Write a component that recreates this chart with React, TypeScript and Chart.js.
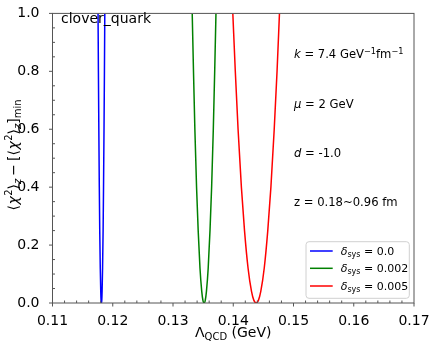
import React, { useEffect, useRef } from 'react';
import { Chart, registerables } from 'chart.js';

Chart.register(...registerables);

const FAMILY = '"DejaVu Sans", "Noto Sans", sans-serif';

// ---- data ----
const deltaSysLabels = ['0.0', '0.002', '0.005'];
const seriesColors = ['#0000ff', '#008000', '#ff0000'];
const chiLevels = [1.0, 0.8, 0.6, 0.4, 0.25, 0.12, 0.04, 0.01, 0, 0.01, 0.04, 0.12, 0.25, 0.4, 0.6, 0.8, 1.0];
const lambdaBlue = [0.11756, 0.11762, 0.11769, 0.11777, 0.11784, 0.11793, 0.11801, 0.11806, 0.11812, 0.11818, 0.11823, 0.11831, 0.1184, 0.11847, 0.11855, 0.11862, 0.11868];
const lambdaGreen = [0.13319, 0.1334, 0.13363, 0.13391, 0.13418, 0.13448, 0.13477, 0.13496, 0.13516, 0.13536, 0.13555, 0.13584, 0.13614, 0.13641, 0.13669, 0.13692, 0.13713];
const lambdaRed = [0.13993, 0.14034, 0.1408, 0.14135, 0.14187, 0.14246, 0.14303, 0.14341, 0.1438, 0.14419, 0.14457, 0.14514, 0.14573, 0.14625, 0.1468, 0.14727, 0.14767];
const xTickValues = [0.11, 0.12, 0.13, 0.14, 0.15, 0.16, 0.17];
const xTickLabels = ['0.11', '0.12', '0.13', '0.14', '0.15', '0.16', '0.17'];
const yTickValues = [0, 0.2, 0.4, 0.6, 0.8, 1.0];
const yTickLabels = ['0.0', '0.2', '0.4', '0.6', '0.8', '1.0'];

type Seg = { t: string; s: number; i?: boolean; dy?: number; gap?: number };

const fontOf = (g: Seg) => `${g.i ? 'italic ' : ''}${g.s}px ${FAMILY}`;

function segWidth(ctx: CanvasRenderingContext2D, g: Seg) {
  ctx.font = fontOf(g);
  return ctx.measureText(g.t).width + (g.gap || 0);
}

function richWidth(ctx: CanvasRenderingContext2D, segs: Seg[]) {
  let w = 0;
  for (const g of segs) w += segWidth(ctx, g);
  return w;
}

function drawRich(ctx: CanvasRenderingContext2D, segs: Seg[], x: number, y: number, align: 'left' | 'center' = 'left') {
  let cx = align === 'center' ? x - richWidth(ctx, segs) / 2 : x;
  ctx.textAlign = 'left';
  ctx.textBaseline = 'alphabetic';
  for (const g of segs) {
    ctx.font = fontOf(g);
    if (g.t) ctx.fillText(g.t, cx, y + (g.dy || 0));
    cx += segWidth(ctx, g);
  }
}

const decoPlugin = {
  id: 'deco',
  afterDraw(chart: any) {
    const { ctx, chartArea: a } = chart;
    const xs = chart.scales.x;
    const ys = chart.scales.y;
    ctx.save();
    // frame
    ctx.strokeStyle = '#555555';
    ctx.lineWidth = 1;
    ctx.strokeRect(a.left, a.top, a.right - a.left, a.bottom - a.top);

    // major ticks (outward)
    ctx.beginPath();
    for (const v of xTickValues) {
      const p = xs.getPixelForValue(v);
      ctx.moveTo(p, a.bottom);
      ctx.lineTo(p, a.bottom + 3.5);
    }
    for (const v of yTickValues) {
      const p = ys.getPixelForValue(v);
      ctx.moveTo(a.left, p);
      ctx.lineTo(a.left - 3.5, p);
    }
    ctx.stroke();

    // minor ticks (inward)
    ctx.beginPath();
    for (let k = 1; k < 30; k++) {
      if (k % 5 === 0) continue;
      const p = xs.getPixelForValue(0.11 + k * 0.002);
      ctx.moveTo(p, a.bottom);
      ctx.lineTo(p, a.bottom - 2.5);
    }
    for (let k = 1; k < 20; k++) {
      if (k % 4 === 0) continue;
      const p = ys.getPixelForValue(k * 0.05);
      ctx.moveTo(a.left, p);
      ctx.lineTo(a.left + 2.5, p);
    }
    ctx.stroke();

    ctx.fillStyle = '#000000';
    // top-left label
    drawRich(ctx, [{ t: 'clover_quark', s: 14 }], a.left + 8.5, 23.3);

    // annotations
    const ax = 294;
    drawRich(ctx, [
      { t: 'k', s: 11.6, i: true },
      { t: ' = 7.4 GeV', s: 11.6 },
      { t: '\u22121', s: 8.2, dy: -4.5 },
      { t: 'fm', s: 11.6 },
      { t: '\u22121', s: 8.2, dy: -4.5 },
    ], ax, 58.3);
    drawRich(ctx, [
      { t: '\u03bc', s: 11.6, i: true },
      { t: ' = 2 GeV', s: 11.6 },
    ], ax, 108);
    drawRich(ctx, [
      { t: 'd', s: 11.6, i: true },
      { t: ' = -1.0', s: 11.6 },
    ], ax, 157);
    drawRich(ctx, [{ t: 'z = 0.18~0.96 fm', s: 11.6 }], ax, 206);

    // x-axis title
    drawRich(ctx, [
      { t: '\u039b', s: 14 },
      { t: 'QCD', s: 10, dy: 3.2 },
      { t: ' (GeV)', s: 14 },
    ], (a.left + a.right) / 2, 336.5, 'center');

    // y-axis title (rotated)
    ctx.save();
    ctx.translate(17.5, 155);
    ctx.rotate(-Math.PI / 2);
    drawRich(ctx, [
      { t: '\u27e8', s: 14, gap: 0.5 },
      { t: '\u03c7', s: 14, i: true, gap: 0.5 },
      { t: '2', s: 10, dy: -5.5 },
      { t: '\u27e9', s: 14 },
      { t: 'z', s: 10, i: true, dy: 3, gap: 3 },
      { t: '\u2212', s: 14, gap: 3 },
      { t: '[', s: 14 },
      { t: '\u27e8', s: 14, gap: 0.5 },
      { t: '\u03c7', s: 14, i: true, gap: 0.5 },
      { t: '2', s: 10, dy: -5.5 },
      { t: '\u27e9', s: 14 },
      { t: 'z', s: 10, i: true, dy: 3 },
      { t: ']', s: 14 },
      { t: 'min', s: 10, dy: 3 },
    ], 0, 0, 'center');
    ctx.restore();

    // legend
    const lx = 306, ly = 241.7, lw = 103.3, lh = 56.6, r = 3;
    ctx.beginPath();
    ctx.moveTo(lx + r, ly);
    ctx.lineTo(lx + lw - r, ly);
    ctx.arcTo(lx + lw, ly, lx + lw, ly + r, r);
    ctx.lineTo(lx + lw, ly + lh - r);
    ctx.arcTo(lx + lw, ly + lh, lx + lw - r, ly + lh, r);
    ctx.lineTo(lx + r, ly + lh);
    ctx.arcTo(lx, ly + lh, lx, ly + lh - r, r);
    ctx.lineTo(lx, ly + r);
    ctx.arcTo(lx, ly, lx + r, ly, r);
    ctx.closePath();
    ctx.fillStyle = 'rgba(255,255,255,0.8)';
    ctx.fill();
    ctx.strokeStyle = '#d0d0d0';
    ctx.lineWidth = 1;
    ctx.stroke();

    const rowY = [251, 268.3, 286];
    chart.data.datasets.forEach((ds: any, i: number) => {
      ctx.strokeStyle = ds.borderColor;
      ctx.lineWidth = 1.5;
      ctx.beginPath();
      ctx.moveTo(310, rowY[i]);
      ctx.lineTo(332.7, rowY[i]);
      ctx.stroke();
      ctx.fillStyle = '#000000';
      drawRich(ctx, [
        { t: '\u03b4', s: 11, i: true },
        { t: 'sys', s: 8, dy: 2.5 },
        { t: ' = ' + deltaSysLabels[i], s: 11 },
      ], 340.7, rowY[i] + 3.6);
    });

    ctx.restore();
  },
};

function makeData(xs: number[]) {
  return xs.map((x, i) => ({ x, y: chiLevels[i] }));
}

export default function App() {
  const ref = useRef<HTMLCanvasElement | null>(null);
  useEffect(() => {
    if (!ref.current) return;
    const series = [lambdaBlue, lambdaGreen, lambdaRed];
    const chart = new Chart(ref.current, {
      type: 'line',
      data: {
        datasets: series.map((s, i) => ({
          label: '\u03b4sys = ' + deltaSysLabels[i],
          data: makeData(s),
          borderColor: seriesColors[i],
          backgroundColor: seriesColors[i],
          borderWidth: 1.5,
          pointRadius: 0,
          fill: false,
          cubicInterpolationMode: 'monotone' as const,
        })),
      },
      options: {
        animation: false,
        responsive: true,
        maintainAspectRatio: false,
        layout: { padding: { top: 10.7, right: 22, left: 0, bottom: 0 } },
        plugins: { legend: { display: false }, tooltip: { enabled: false } },
        scales: {
          x: {
            type: 'linear',
            min: 0.11,
            max: 0.17,
            grid: { display: false },
            border: { display: false },
            afterBuildTicks: (s: any) => {
              s.ticks = xTickValues.map((v) => ({ value: v }));
            },
            afterFit: (s: any) => {
              s.height = 44;
            },
            ticks: {
              padding: 1.5,
              color: '#000000',
              font: { family: FAMILY, size: 14 },
              maxRotation: 0,
              autoSkip: false,
              callback: (_v: any, i: number) => xTickLabels[i],
            },
          },
          y: {
            type: 'linear',
            min: 0,
            max: 1,
            grid: { display: false },
            border: { display: false },
            afterBuildTicks: (s: any) => {
              s.ticks = yTickValues.map((v) => ({ value: v }));
            },
            afterFit: (s: any) => {
              s.width = 52.5;
            },
            ticks: {
              padding: 5,
              color: '#000000',
              font: { family: FAMILY, size: 14 },
              autoSkip: false,
              callback: (_v: any, i: number) => yTickLabels[i],
            },
          },
        },
      },
      plugins: [decoPlugin],
    } as any);
    return () => chart.destroy();
  }, []);

  return (
    <div style={{ position: 'fixed', left: 0, top: 0, width: 436, height: 347, background: '#ffffff' }}>
      <canvas ref={ref} />
    </div>
  );
}
